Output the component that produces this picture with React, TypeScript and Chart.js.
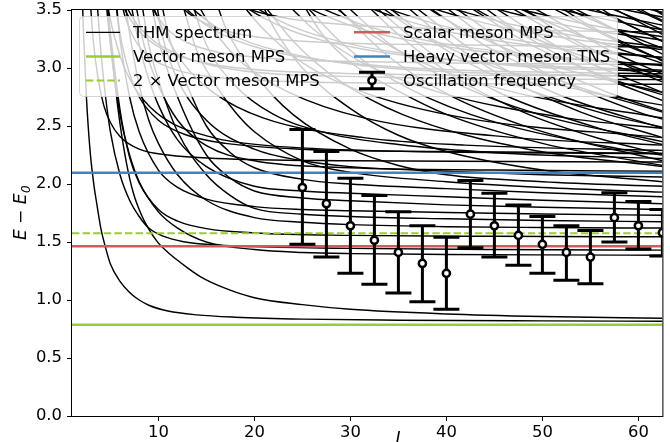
import React, { useEffect, useRef } from "react";
import { Chart, registerables } from "chart.js";

Chart.register(...registerables);

type Pt = [number, number];

// ---------- axes ----------
const X_MIN = 1;
const X_MAX = 62.5;
const Y_MIN = 0;
const Y_MAX = 3.5;
const X_TICKS = [10, 20, 30, 40, 50, 60];
const Y_TICKS = [0, 0.5, 1, 1.5, 2, 2.5, 3, 3.5];

// ---------- reference levels ----------
const VECTOR_MPS = 0.787;
const TWO_VECTOR_MPS = 1.576;
const SCALAR_MPS = 1.463;
const HEAVY_VECTOR_TNS = 2.097;

// ---------- oscillation frequency (points + error bars) ----------
const OSC_L = [25, 27.5, 30, 32.5, 35, 37.5, 40, 42.5, 45, 47.5, 50, 52.5, 55, 57.5, 60, 62.5];
const OSC_E = [1.97, 1.83, 1.64, 1.515, 1.41, 1.315, 1.23, 1.74, 1.64, 1.557, 1.48, 1.41, 1.37, 1.71, 1.64, 1.58];
const OSC_LO = [1.48, 1.37, 1.23, 1.135, 1.06, 0.985, 0.92, 1.45, 1.37, 1.3, 1.23, 1.17, 1.14, 1.5, 1.44, 1.38];
const OSC_HI = [2.47, 2.28, 2.05, 1.9, 1.76, 1.64, 1.54, 2.03, 1.92, 1.82, 1.72, 1.64, 1.6, 1.925, 1.85, 1.78];

const LEGEND_LABELS = [
  "THM spectrum",
  "Vector meson MPS",
  "2 \u00d7 Vector meson MPS",
  "Scalar meson MPS",
  "Heavy vector meson TNS",
  "Oscillation frequency",
];

// ---------- THM spectrum levels, [L, E - E0] ----------
const THM_LOW: Pt[][] = [
  [[2.0, 3.8], [2.2, 3.3], [2.5, 2.75], [2.9, 2.27], [3.3, 1.98], [3.6, 1.82], [4, 1.62], [4.5, 1.45], [5, 1.31], [6, 1.16], [7, 1.065], [8, 1.0], [9, 0.955], [11, 0.905], [14, 0.872], [18, 0.852], [25, 0.835], [35, 0.826], [50, 0.82], [62.5, 0.817]],
  [[4.6, 3.7], [5, 3.25], [5.5, 2.85], [6, 2.52], [6.7, 2.17], [7.4, 1.92], [8.2, 1.74], [9, 1.61], [10, 1.49], [11, 1.41], [12.5, 1.31], [14.4, 1.2], [17, 1.1], [20, 1.02], [25, 0.96], [30, 0.92], [40, 0.88], [50, 0.858], [62.5, 0.842]],
  [[3.5, 3.7], [4, 3.15], [4.5, 2.75], [5, 2.45], [6, 2.08], [7, 1.86], [8, 1.72], [9, 1.62], [10.5, 1.55], [12.5, 1.505], [15, 1.48], [20, 1.46], [30, 1.445], [45, 1.435], [62.5, 1.43]],
  [[4.4, 3.7], [5, 3.2], [6, 2.6], [7, 2.25], [8, 2.02], [10, 1.76], [12, 1.62], [15, 1.5], [20, 1.435], [25, 1.41], [30, 1.4], [40, 1.393], [50, 1.389], [62.5, 1.386]],
];

const THM_MID: Pt[][] = [
  [[4.5, 3.7], [5, 3.3], [6, 2.64], [7, 2.23], [8, 2.01], [10, 1.78], [12, 1.68], [15, 1.615], [20, 1.578], [30, 1.557], [45, 1.549], [62.5, 1.545]],
  [[6.3, 3.7], [7, 3.3], [8, 2.85], [9, 2.55], [10, 2.35], [12, 2.08], [15, 1.86], [20, 1.71], [25, 1.67], [30, 1.65], [40, 1.632], [50, 1.625], [62.5, 1.62]],
  [[8, 3.7], [9, 3.2], [10, 2.9], [12, 2.45], [15, 2.08], [17.5, 1.9], [20, 1.79], [25, 1.74], [30, 1.72], [40, 1.7], [50, 1.685], [62.5, 1.675]],
  [[5.4, 3.7], [6, 3.25], [7, 2.75], [8, 2.45], [10, 2.12], [12, 1.97], [15, 1.87], [20, 1.805], [25, 1.78], [30, 1.77], [40, 1.755], [50, 1.742], [62.5, 1.73]],
  [[9, 3.7], [10, 3.25], [12, 2.75], [15, 2.25], [17.5, 2.05], [20, 1.94], [25, 1.88], [30, 1.855], [40, 1.82], [50, 1.8], [62.5, 1.78]],
  [[6.8, 3.7], [8, 3.2], [9, 2.9], [10, 2.68], [12, 2.38], [15, 2.15], [20, 1.98], [25, 1.94], [30, 1.92], [40, 1.89], [50, 1.86], [62.5, 1.83]],
  [[10, 3.7], [11, 3.3], [12.5, 2.95], [15, 2.5], [17.5, 2.27], [20, 2.14], [25, 2.04], [30, 2.0], [40, 1.96], [50, 1.925], [62.5, 1.89]],
  [[12, 3.7], [14, 3.15], [16, 2.85], [18, 2.62], [20, 2.45], [25, 2.2], [30, 2.1], [40, 2.02], [50, 1.97], [62.5, 1.93]],
  [[15.5, 3.7], [17, 3.35], [20, 2.95], [24, 2.6], [30, 2.3], [35, 2.16], [40, 2.08], [50, 2.02], [62.5, 1.98]],
  [[20, 3.7], [22, 3.35], [25, 3.0], [30, 2.65], [35, 2.42], [40, 2.28], [50, 2.12], [62.5, 2.02]],
  [[9.5, 3.7], [10.5, 3.25], [12, 2.9], [15, 2.55], [20, 2.3], [25, 2.2], [30, 2.15], [40, 2.11], [50, 2.08], [62.5, 2.06]],
  [[24, 3.7], [27, 3.3], [30, 3.05], [35, 2.8], [40, 2.6], [50, 2.35], [62.5, 2.16]],
  [[13, 3.7], [15, 3.2], [18, 2.85], [22, 2.6], [28, 2.43], [35, 2.34], [45, 2.27], [62.5, 2.22]],
  [[5.4, 3.7], [6, 3.3], [7, 2.95], [8, 2.75], [10, 2.55], [13, 2.42], [17, 2.35], [25, 2.3], [40, 2.28], [62.5, 2.265]],
  [[7.3, 3.7], [8.5, 3.2], [10, 2.85], [12, 2.55], [15, 2.33], [20, 2.2], [30, 2.14], [45, 2.12], [62.5, 2.11]],
];

const THM_STEEP: Pt[][] = [
  [[5.8, 3.7], [6.5, 3.45], [7.5, 3.25], [9, 3.1], [12, 2.98], [16, 2.92], [25, 2.88], [62.5, 2.86]],
  [[8.5, 3.7], [9.5, 3.5], [11, 3.33], [13, 3.22], [16, 3.14], [22, 3.08], [35, 3.05], [62.5, 3.03]],
  [[11, 3.7], [12.5, 3.52], [15, 3.38], [18, 3.3], [25, 3.23], [40, 3.2], [62.5, 3.18]],
  [[16, 3.7], [18, 3.56], [22, 3.45], [30, 3.37], [45, 3.33], [62.5, 3.31]],
  [[2.8, 3.7], [3.2, 3.25], [3.7, 2.92], [4.3, 2.68], [5, 2.53], [6, 2.41], [8, 2.3], [11, 2.25], [16, 2.22], [30, 2.2], [62.5, 2.19]],
];

const THM_VV: Pt[][] = [
  [[31.2, 3.6], [32, 3.52], [40, 2.97], [48, 2.62], [56, 2.39], [62.5, 2.256]],
  [[35.1, 3.6], [36, 3.52], [45, 2.97], [54, 2.62], [62.5, 2.4]],
  [[39, 3.6], [40, 3.52], [50, 2.97], [60, 2.62], [62.5, 2.56]],
  [[43, 3.6], [44, 3.52], [55, 2.97], [62.5, 2.72]],
  [[47, 3.6], [48, 3.52], [60, 2.97], [62.5, 2.88]],
  [[51, 3.6], [52, 3.52], [62.5, 3.06]],
  [[55, 3.6], [56, 3.52], [62.5, 3.23]],
  [[59, 3.6], [60, 3.52], [62.5, 3.41]],
];

const THM_VVB: Pt[][] = [
  [[28.4, 3.54], [33.8, 3.11], [40, 2.78], [48.9, 2.48], [62.5, 2.2]],
  [[32.4, 3.54], [38.7, 3.11], [45.7, 2.78], [55.9, 2.48], [62.5, 2.34]],
  [[36.5, 3.54], [43.5, 3.11], [51.4, 2.78], [62.5, 2.48]],
  [[40.5, 3.54], [48.3, 3.11], [57.1, 2.78], [62.5, 2.63]],
  [[44.6, 3.54], [53.2, 3.11], [62.5, 2.79]],
  [[48.6, 3.54], [58, 3.11], [62.5, 2.95]],
  [[52.7, 3.54], [62.5, 3.12]],
  [[56.8, 3.54], [62.5, 3.29]],
  [[60.8, 3.54], [62.5, 3.46]],
];

const THM_VVC: Pt[][] = [
  [[21.0, 3.54], [24.4, 3.2], [28.7, 2.9], [35.4, 2.6], [48.5, 2.3], [62.5, 2.15]],
  [[25.3, 3.54], [29.3, 3.2], [34.4, 2.9], [42.5, 2.6], [58.2, 2.3], [62.5, 2.25]],
  [[29.5, 3.54], [34.2, 3.2], [40.2, 2.9], [49.6, 2.6], [62.5, 2.365]],
  [[33.7, 3.54], [39.1, 3.2], [45.9, 2.9], [56.7, 2.6], [62.5, 2.49]],
  [[37.9, 3.54], [43.9, 3.2], [51.6, 2.9], [62.5, 2.62]],
  [[42.1, 3.54], [48.8, 3.2], [57.4, 2.9], [62.5, 2.77]],
  [[46.3, 3.54], [53.7, 3.2], [62.5, 2.92]],
  [[50.5, 3.54], [58.6, 3.2], [62.5, 3.07]],
  [[54.7, 3.54], [62.5, 3.23]],
  [[58.9, 3.54], [62.5, 3.4]],
];

const THM_VS: Pt[][] = [
  [[4.5, 3.62], [4.65, 3.56], [5.24, 3.33], [6.28, 3.04], [7.85, 2.79], [10.5, 2.57], [15.7, 2.4], [20.9, 2.335], [31.4, 2.29], [62.5, 2.26]],
  [[9.0, 3.62], [9.3, 3.56], [10.5, 3.33], [12.6, 3.04], [15.7, 2.79], [20.9, 2.57], [31.4, 2.4], [41.9, 2.335], [62.5, 2.29]],
  [[13.5, 3.62], [14, 3.56], [15.7, 3.33], [18.8, 3.04], [23.6, 2.79], [31.4, 2.57], [47.1, 2.4], [62.5, 2.335]],
  [[18, 3.62], [18.6, 3.56], [21, 3.33], [25.1, 3.04], [31.4, 2.79], [41.9, 2.57], [62.5, 2.4]],
  [[22.5, 3.62], [23.3, 3.56], [26.2, 3.33], [31.4, 3.04], [39.3, 2.79], [52.4, 2.57], [62.5, 2.48]],
  [[27, 3.62], [27.9, 3.56], [31.4, 3.33], [37.7, 3.04], [47.1, 2.79], [62.5, 2.57]],
  [[31.5, 3.62], [32.6, 3.56], [36.7, 3.33], [44, 3.04], [55, 2.79], [62.5, 2.68]],
  [[36, 3.62], [37.2, 3.56], [41.9, 3.33], [50.3, 3.04], [62.5, 2.79]],
  [[40.5, 3.62], [41.9, 3.56], [47.1, 3.33], [56.5, 3.04], [62.5, 2.91]],
  [[45, 3.62], [46.5, 3.56], [52.4, 3.33], [62.5, 3.04]],
  [[49.5, 3.62], [51.2, 3.56], [57.6, 3.33], [62.5, 3.17]],
  [[54, 3.62], [55.8, 3.56], [62.5, 3.33]],
  [[58.5, 3.62], [60.5, 3.56], [62.5, 3.47]],
];

const THM_SS: Pt[][] = [
  [[6.2, 3.56], [6.4, 3.52], [7, 3.43], [7.85, 3.33], [9, 3.24], [10.5, 3.16], [12.6, 3.09], [15.7, 3.03], [20.9, 2.98], [31.4, 2.95], [62.5, 2.93]],
  [[12.4, 3.56], [12.8, 3.52], [14, 3.43], [15.7, 3.33], [18, 3.24], [21, 3.16], [25.2, 3.09], [31.4, 3.03], [41.8, 2.98], [62.5, 2.95]],
  [[18.6, 3.56], [19.2, 3.52], [21, 3.43], [23.6, 3.33], [27, 3.24], [31.5, 3.16], [37.8, 3.09], [47.1, 3.03], [62.5, 2.98]],
  [[24.8, 3.56], [25.6, 3.52], [28, 3.43], [31.4, 3.33], [36, 3.24], [42, 3.16], [50.4, 3.09], [62.5, 3.03]],
  [[31, 3.56], [32, 3.52], [35, 3.43], [39.3, 3.33], [45, 3.24], [52.5, 3.16], [62.5, 3.09]],
  [[37.2, 3.56], [38.4, 3.52], [42, 3.43], [47.1, 3.33], [54, 3.24], [62.5, 3.16]],
  [[43.4, 3.56], [44.8, 3.52], [49, 3.43], [55, 3.33], [62.5, 3.24]],
  [[49.6, 3.56], [51.2, 3.52], [56, 3.43], [62.5, 3.33]],
  [[55.8, 3.56], [57.6, 3.52], [62.5, 3.44]],
];

const THM_VH: Pt[][] = [
  [[6.6, 3.54], [7, 3.48], [7.85, 3.37], [9, 3.27], [10.5, 3.18], [15.7, 3.02], [31.4, 2.925], [62.5, 2.9]],
  [[13.2, 3.54], [14, 3.48], [15.7, 3.37], [18, 3.27], [21, 3.18], [31.4, 3.02], [62.5, 2.925]],
  [[19.8, 3.54], [21, 3.48], [23.6, 3.37], [27, 3.27], [31.5, 3.18], [47.1, 3.02], [62.5, 2.97]],
  [[26.4, 3.54], [28, 3.48], [31.4, 3.37], [36, 3.27], [42, 3.18], [62.5, 3.02]],
  [[33, 3.54], [35, 3.48], [39.3, 3.37], [45, 3.27], [52.5, 3.18], [62.5, 3.09]],
  [[39.6, 3.54], [42, 3.48], [47.1, 3.37], [54, 3.27], [62.5, 3.18]],
  [[46.2, 3.54], [49, 3.48], [55, 3.37], [62.5, 3.27]],
  [[52.8, 3.54], [56, 3.48], [62.5, 3.37]],
  [[59.4, 3.54], [62.5, 3.48]],
];

// ---------- styling ----------
const FONT = '"DejaVu Sans", "Liberation Sans", sans-serif';
const C_GREEN = "#9acd32";
const C_RED = "#cd5c5c";
const C_BLUE = "#4682b4";

function roundRectPath(ctx: CanvasRenderingContext2D, x: number, y: number, w: number, h: number, r: number) {
  ctx.beginPath();
  ctx.moveTo(x + r, y);
  ctx.lineTo(x + w - r, y);
  ctx.arcTo(x + w, y, x + w, y + r, r);
  ctx.lineTo(x + w, y + h - r);
  ctx.arcTo(x + w, y + h, x + w - r, y + h, r);
  ctx.lineTo(x + r, y + h);
  ctx.arcTo(x, y + h, x, y + h - r, r);
  ctx.lineTo(x, y + r);
  ctx.arcTo(x, y, x + r, y, r);
  ctx.closePath();
}

function drawErrorGlyph(ctx: CanvasRenderingContext2D, px: number, pLo: number, pHi: number, cap: number) {
  ctx.beginPath();
  ctx.moveTo(px, pLo);
  ctx.lineTo(px, pHi);
  ctx.moveTo(px - cap, pLo);
  ctx.lineTo(px + cap, pLo);
  ctx.moveTo(px - cap, pHi);
  ctx.lineTo(px + cap, pHi);
  ctx.stroke();
}

const errorBarPlugin = {
  id: "errorBars",
  beforeDatasetDraw(chart: any, args: any) {
    const ds = chart.data.datasets[args.index];
    if (!ds || ds.label !== "osc") return;
    const { ctx, chartArea: a, scales } = chart;
    const xs = scales.x;
    const ys = scales.y;
    ctx.save();
    ctx.beginPath();
    ctx.rect(a.left, a.top, a.right - a.left, a.bottom - a.top);
    ctx.clip();
    ctx.strokeStyle = "#000";
    ctx.lineWidth = 3;
    ctx.lineCap = "butt";
    for (let i = 0; i < OSC_L.length; i++) {
      const px = xs.getPixelForValue(OSC_L[i]);
      drawErrorGlyph(ctx, px, ys.getPixelForValue(OSC_LO[i]), ys.getPixelForValue(OSC_HI[i]), 13);
    }
    ctx.restore();
  },
};

const decorPlugin = {
  id: "decor",
  afterDraw(chart: any) {
    const { ctx, chartArea: a } = chart;
    ctx.save();

    // frame (all four spines)
    ctx.strokeStyle = "#000";
    ctx.lineWidth = 1;
    ctx.strokeRect(a.left - 0.5, a.top - 0.5, a.right - a.left + 1, a.bottom - a.top + 1);

    // legend
    const lx = a.left + 7.5;
    const ly = a.top + 6.5;
    roundRectPath(ctx, lx, ly, 538, 80, 4);
    ctx.fillStyle = "rgba(255,255,255,0.8)";
    ctx.fill();
    ctx.strokeStyle = "rgba(204,204,204,0.8)";
    ctx.lineWidth = 1;
    ctx.stroke();

    const rows = [ly + 15.8, ly + 40, ly + 64];
    const cols = [
      { h0: lx + 6.5, h1: lx + 40.5, t: lx + 53.5 },
      { h0: lx + 274.5, h1: lx + 310.5, t: lx + 323.5 },
    ];
    const handle = (idx: number, c: any, y: number) => {
      ctx.save();
      ctx.setLineDash([]);
      if (idx === 0) {
        ctx.strokeStyle = "#000";
        ctx.lineWidth = 1.3;
      } else if (idx === 1) {
        ctx.strokeStyle = C_GREEN;
        ctx.lineWidth = 2.6;
      } else if (idx === 2) {
        ctx.strokeStyle = C_GREEN;
        ctx.lineWidth = 2;
        ctx.setLineDash([7.4, 3.2]);
      } else if (idx === 3) {
        ctx.strokeStyle = C_RED;
        ctx.lineWidth = 2.6;
      } else if (idx === 4) {
        ctx.strokeStyle = C_BLUE;
        ctx.lineWidth = 2.6;
      }
      if (idx < 5) {
        ctx.beginPath();
        ctx.moveTo(c.h0, y);
        ctx.lineTo(c.h1, y);
        ctx.stroke();
      } else {
        const cx = (c.h0 + c.h1) / 2;
        ctx.strokeStyle = "#000";
        ctx.lineWidth = 3;
        drawErrorGlyph(ctx, cx, y + 8.3, y - 8.3, 13);
        ctx.beginPath();
        ctx.arc(cx, y, 3.6, 0, Math.PI * 2);
        ctx.fillStyle = "#fff";
        ctx.fill();
        ctx.lineWidth = 2.5;
        ctx.stroke();
      }
      ctx.restore();
    };
    ctx.font = `16.4px ${FONT}`;
    ctx.textBaseline = "alphabetic";
    ctx.textAlign = "left";
    LEGEND_LABELS.forEach((label, i) => {
      const c = cols[Math.floor(i / 3)];
      const y = rows[i % 3];
      handle(i, c, y);
      ctx.fillStyle = "#000";
      ctx.fillText(label, c.t, y + 5.8);
    });

    // y-axis title: E − E_0
    ctx.save();
    ctx.translate(26, (a.top + a.bottom) / 2);
    ctx.rotate(-Math.PI / 2);
    ctx.fillStyle = "#000";
    const main = "E \u2212 E";
    ctx.font = `italic 17px ${FONT}`;
    const w1 = ctx.measureText(main).width;
    ctx.font = `italic 12px ${FONT}`;
    const w2 = ctx.measureText("0").width;
    const start = -(w1 + w2) / 2;
    ctx.font = `italic 17px ${FONT}`;
    ctx.textBaseline = "alphabetic";
    ctx.fillText(main, start, 0);
    ctx.font = `italic 12px ${FONT}`;
    ctx.fillText("0", start + w1 + 0.5, 3.5);
    ctx.restore();

    // x-axis title: L (mostly below the visible canvas)
    ctx.fillStyle = "#000";
    ctx.font = `italic 17px ${FONT}`;
    ctx.textBaseline = "alphabetic";
    ctx.textAlign = "left";
    ctx.fillText("L", a.left + (a.right - a.left) * 0.548, 443.5);

    ctx.restore();
  },
};

export default function App() {
  const ref = useRef<HTMLCanvasElement | null>(null);

  useEffect(() => {
    if (!ref.current) return;

    const allCurves: Pt[][] = [
      ...THM_LOW,
      ...THM_MID,
      ...THM_STEEP,
      ...THM_VV,
      ...THM_VVB,
      ...THM_VVC,
      ...THM_VS,
      ...THM_SS,
      ...THM_VH,
    ];

    const curveSets = allCurves.map((c, i) => ({
      type: "line" as const,
      label: "thm" + i,
      data: c.map(([x, y]) => ({ x, y })),
      borderColor: "#000",
      borderWidth: 1.45,
      pointRadius: 0,
      pointHoverRadius: 0,
      cubicInterpolationMode: "monotone" as const,
      fill: false,
      clip: 0,
      order: 3,
    }));

    const hline = (label: string, v: number, color: string, width: number, dash: number[]) => ({
      type: "line" as const,
      label,
      data: [
        { x: X_MIN, y: v },
        { x: X_MAX, y: v },
      ],
      borderColor: color,
      borderWidth: width,
      borderDash: dash,
      pointRadius: 0,
      pointHoverRadius: 0,
      fill: false,
      clip: 0,
      order: 2,
    });

    const oscSet = {
      type: "line" as const,
      label: "osc",
      data: OSC_L.map((x, i) => ({ x, y: OSC_E[i] })),
      showLine: false,
      pointRadius: 3.6,
      pointHoverRadius: 3.6,
      pointBorderWidth: 2.5,
      pointBackgroundColor: "#fff",
      pointBorderColor: "#000",
      clip: 0,
      order: 1,
    };

    const chart = new Chart(ref.current, {
      type: "line",
      data: {
        datasets: [
          oscSet,
          hline("heavy", HEAVY_VECTOR_TNS, C_BLUE, 2.6, []),
          hline("scalar", SCALAR_MPS, C_RED, 2.6, []),
          hline("twovec", TWO_VECTOR_MPS, C_GREEN, 2, [7.4, 3.2]),
          hline("vec", VECTOR_MPS, C_GREEN, 2.6, []),
          ...curveSets,
        ] as any,
      },
      options: {
        responsive: false,
        animation: false,
        events: [],
        layout: { padding: { left: 0, top: 10, right: 7.6, bottom: 0 } },
        plugins: {
          legend: { display: false },
          tooltip: { enabled: false },
          title: { display: false },
          colors: { enabled: false },
        } as any,
        scales: {
          x: {
            type: "linear",
            min: X_MIN,
            max: X_MAX,
            afterBuildTicks: (s: any) => {
              s.ticks = X_TICKS.map((v) => ({ value: v }));
            },
            afterFit: (s: any) => {
              s.height = 26;
            },
            grid: { display: true, drawOnChartArea: false, drawTicks: true, tickLength: 5, color: "#000", lineWidth: 1 },
            border: { display: false },
            ticks: {
              color: "#000",
              font: { family: FONT, size: 16.4 },
              padding: 2,
              maxRotation: 0,
              autoSkip: false,
              callback: (v: any) => String(v),
            },
          },
          y: {
            type: "linear",
            min: Y_MIN,
            max: Y_MAX,
            afterBuildTicks: (s: any) => {
              s.ticks = Y_TICKS.map((v) => ({ value: v }));
            },
            afterFit: (s: any) => {
              s.width = 72;
              s.paddingTop = 0;
              s.paddingBottom = 0;
            },
            grid: { display: true, drawOnChartArea: false, drawTicks: true, tickLength: 5, color: "#000", lineWidth: 1 },
            border: { display: false },
            ticks: {
              color: "#000",
              font: { family: FONT, size: 16.4, lineHeight: 0.5 },
              padding: 5,
              autoSkip: false,
              callback: (v: any) => Number(v).toFixed(1),
            },
          },
        },
      } as any,
      plugins: [errorBarPlugin, decorPlugin],
    });

    return () => chart.destroy();
  }, []);

  return (
    <div style={{ position: "fixed", left: 0, top: 0, width: 670, height: 442, background: "#fff" }}>
      <canvas ref={ref} width={670} height={442} style={{ width: "670px", height: "442px", display: "block" }} />
    </div>
  );
}
